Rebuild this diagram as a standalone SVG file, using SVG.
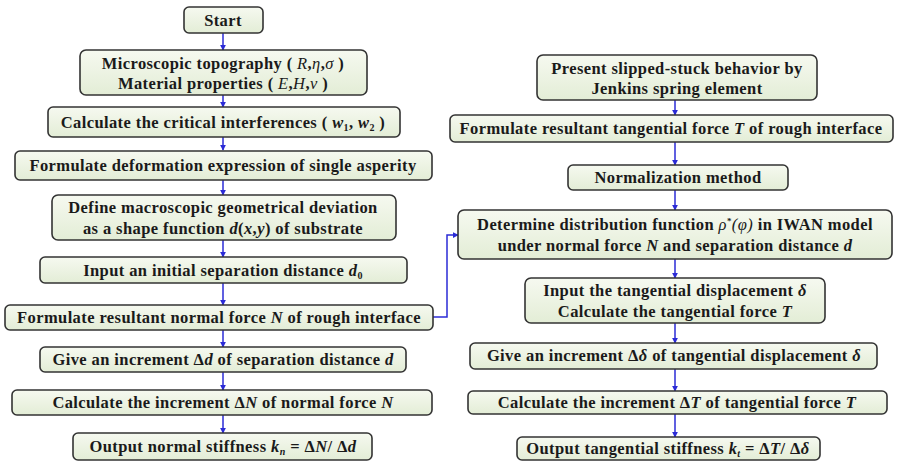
<svg xmlns="http://www.w3.org/2000/svg" width="898" height="462" viewBox="0 0 898 462">
<defs>
<linearGradient id="g" x1="0" y1="0" x2="0" y2="1">
<stop offset="0" stop-color="#f6f9f0"/>
<stop offset="1" stop-color="#e3edd6"/>
</linearGradient>
<marker id="ah" viewBox="0 0 8 8" refX="7" refY="4" markerWidth="6" markerHeight="6" orient="auto" markerUnits="userSpaceOnUse">
<path d="M0,0 L8,4 L0,8 z" fill="#2b2bd6"/>
</marker>
<style>
.b{fill:url(#g);stroke:#333;stroke-width:1.6}
.t{font-family:"Liberation Serif","Times New Roman",serif;font-weight:bold;font-size:16.5px;letter-spacing:0.4px;fill:#1a1a1a;text-anchor:middle}
.i{font-style:italic}
.n{font-style:italic;font-weight:normal}
.c{fill:none;stroke:#2b2bd6;stroke-width:1.5;marker-end:url(#ah)}
</style>
</defs>
<rect width="898" height="462" fill="#fff"/>
<g id="connectors">
<line class="c" x1="223" y1="33" x2="223" y2="50"/>
<line class="c" x1="223" y1="95" x2="223" y2="107"/>
<line class="c" x1="223" y1="137" x2="223" y2="150"/>
<line class="c" x1="223" y1="180" x2="223" y2="195"/>
<line class="c" x1="223" y1="240" x2="223" y2="257"/>
<line class="c" x1="223" y1="283" x2="223" y2="305"/>
<line class="c" x1="223" y1="330" x2="223" y2="347"/>
<line class="c" x1="223" y1="372" x2="223" y2="390"/>
<line class="c" x1="223" y1="415" x2="223" y2="433"/>
<polyline class="c" points="433,317 447,317 447,235 458,235"/>
<line class="c" x1="675" y1="100" x2="675" y2="115"/>
<line class="c" x1="675" y1="142" x2="675" y2="165"/>
<line class="c" x1="675" y1="190" x2="675" y2="210"/>
<line class="c" x1="675" y1="259" x2="675" y2="278"/>
<line class="c" x1="675" y1="323" x2="675" y2="343"/>
<line class="c" x1="675" y1="369" x2="675" y2="391"/>
<line class="c" x1="675" y1="414" x2="675" y2="437"/>
</g>
<g id="n1"><rect class="b" x="184" y="7" width="79" height="26" rx="5"/><text class="t" x="223" y="26">Start</text></g>
<g id="n2"><rect class="b" x="80" y="50" width="287" height="45" rx="6"/>
<text class="t" x="223" y="69">Microscopic topography ( <tspan class="n">R</tspan>,<tspan class="n">η</tspan>,<tspan class="n">σ</tspan> )</text>
<text class="t" x="223" y="89">Material properties ( <tspan class="n">E</tspan>,<tspan class="n">H</tspan>,<tspan class="n">ν</tspan> )</text></g>
<g id="n3"><rect class="b" x="48" y="107" width="352" height="30" rx="5"/>
<text class="t" x="223" y="128">Calculate the critical interferences ( <tspan class="i">w</tspan><tspan font-size="10" dy="3">1</tspan><tspan dy="-3">, </tspan><tspan class="i">w</tspan><tspan font-size="10" dy="3">2</tspan><tspan dy="-3"> )</tspan></text></g>
<g id="n4"><rect class="b" x="15" y="151" width="417" height="29" rx="5"/>
<text class="t" x="223" y="171">Formulate deformation expression of single asperity</text></g>
<g id="n5"><rect class="b" x="52" y="195" width="344" height="45" rx="6"/>
<text class="t" x="223" y="213">Define macroscopic geometrical deviation</text>
<text class="t" x="223" y="234">as a shape function <tspan class="i">d</tspan>(<tspan class="i">x</tspan>,<tspan class="i">y</tspan>) of substrate</text></g>
<g id="n6"><rect class="b" x="40" y="257" width="367" height="26" rx="5"/>
<text class="t" x="223" y="276">Input an initial separation distance <tspan class="i">d</tspan><tspan font-size="10" dy="3">0</tspan></text></g>
<g id="n7"><rect class="b" x="5" y="305" width="428" height="25" rx="5"/>
<text class="t" x="219" y="323">Formulate resultant normal force <tspan class="i">N</tspan> of rough interface</text></g>
<g id="n8"><rect class="b" x="40" y="347" width="366" height="25" rx="5"/>
<text class="t" x="223" y="365">Give an increment Δ<tspan class="i">d</tspan> of separation distance <tspan class="i">d</tspan></text></g>
<g id="n9"><rect class="b" x="12" y="390" width="420" height="25" rx="5"/>
<text class="t" x="223" y="408">Calculate the increment Δ<tspan class="i">N</tspan> of normal force <tspan class="i">N</tspan></text></g>
<g id="n10"><rect class="b" x="73" y="433" width="299" height="27" rx="5"/>
<text class="t" x="223" y="452">Output normal stiffness <tspan class="i">k</tspan><tspan class="i" font-size="10" dy="3">n</tspan><tspan dy="-3"> = Δ</tspan><tspan class="i">N</tspan>/ Δ<tspan class="i">d</tspan></text></g>
<g id="n11"><rect class="b" x="537" y="55" width="280" height="45" rx="6"/>
<text class="t" x="677" y="74">Present slipped-stuck behavior by</text>
<text class="t" x="677" y="94">Jenkins spring element</text></g>
<g id="n12"><rect class="b" x="450" y="115" width="443" height="27" rx="5"/>
<text class="t" x="671" y="134">Formulate resultant tangential force <tspan class="i">T</tspan> of rough interface</text></g>
<g id="n13"><rect class="b" x="568" y="165" width="220" height="25" rx="5"/>
<text class="t" x="678" y="183">Normalization method</text></g>
<g id="n14"><rect class="b" x="458" y="210" width="434" height="49" rx="6"/>
<text class="t" x="675" y="230">Determine distribution function <tspan class="n">ρ</tspan><tspan font-size="9" dy="-6">*</tspan><tspan class="n" dy="6">(φ)</tspan> in IWAN model</text>
<text class="t" x="675" y="251">under normal force <tspan class="i">N</tspan> and separation distance <tspan class="i">d</tspan></text></g>
<g id="n15"><rect class="b" x="525" y="278" width="300" height="45" rx="6"/>
<text class="t" x="675" y="296">Input the tangential displacement <tspan class="i">δ</tspan></text>
<text class="t" x="675" y="317">Calculate the tangential force <tspan class="i">T</tspan></text></g>
<g id="n16"><rect class="b" x="470" y="343" width="407" height="26" rx="5"/>
<text class="t" x="674" y="361">Give an increment Δ<tspan class="i">δ</tspan> of tangential displacement <tspan class="i">δ</tspan></text></g>
<g id="n17"><rect class="b" x="468" y="391" width="419" height="23" rx="5"/>
<text class="t" x="677" y="408">Calculate the increment Δ<tspan class="i">T</tspan> of tangential force <tspan class="i">T</tspan></text></g>
<g id="n18"><rect class="b" x="517" y="437" width="303" height="23" rx="5"/>
<text class="t" x="668" y="454">Output tangential stiffness <tspan class="i">k</tspan><tspan class="i" font-size="10" dy="3">t</tspan><tspan dy="-3"> = Δ</tspan><tspan class="i">T</tspan>/ Δ<tspan class="i">δ</tspan></text></g>
</svg>
